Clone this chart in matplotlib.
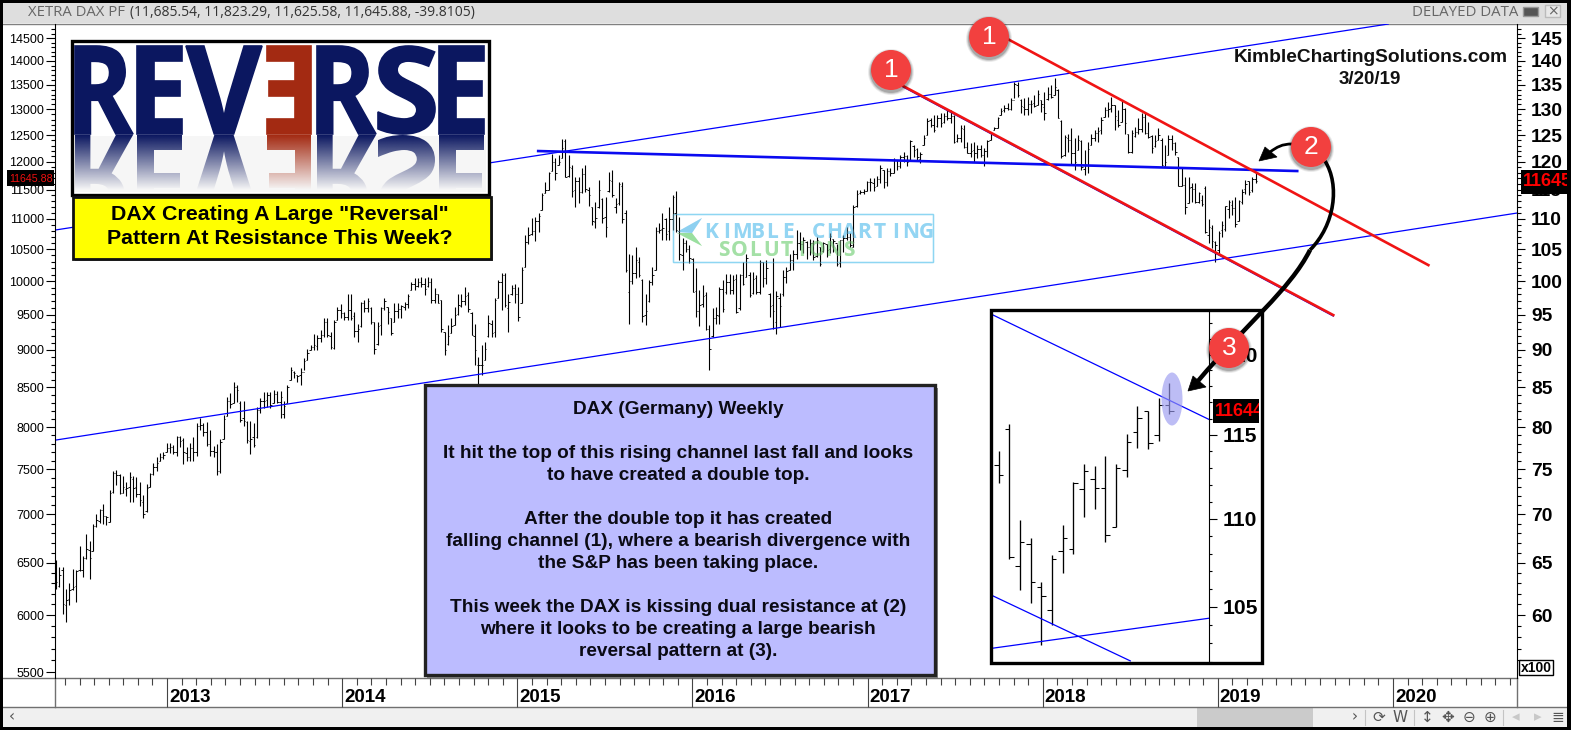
import numpy as np
import matplotlib
matplotlib.use('Agg')
import matplotlib.pyplot as plt
from matplotlib.patches import Rectangle, Circle, Ellipse, Polygon, PathPatch
from matplotlib.path import Path
from matplotlib.textpath import TextPath
from matplotlib.font_manager import FontProperties
from matplotlib.transforms import Affine2D, ScaledTranslation
from matplotlib.ticker import NullFormatter

plt.rcParams['font.family'] = ['Liberation Sans', 'DejaVu Sans']

# ============================== DATA ==============================
# Weekly DAX bars
highs = [
    6530,6455,6455,6245,6300,6440,6430,6665,6565,6795,
    6720,6900,7005,7055,7115,6985,7265,7475,7490,7450,
    7420,7360,7470,7420,7410,7355,7210,7330,7455,7570,
    7640,7685,7705,7805,7805,7785,7895,7895,7865,7755,
    7805,7880,8045,8110,8045,8060,7965,7775,7795,7850,
    8150,8370,8425,8570,8530,8320,8320,8070,8070,8050,
    8255,8360,8435,8435,8445,8465,8455,8455,8320,8530,
    8765,8715,8665,
    8750,8885,9020,9065,9220,9210,9280,9450,9450,9255,
    9420,9615,9655,9540,9810,9810,9540,9370,9690,9715,
    9740,9615,9395,9395,9615,9740,9615,9450,9665,9665,
    9640,9690,9810,9990,10040,10040,10065,10040,10065,10040,
    9890,9810,9715,9255,9350,9450,9615,9810,9810,9915,
    9835,9540,9370,8905,9070,9115,9490,9420,9740,10015,
    10120,10120,9810,9940,9955,9915,
    10220,10730,10865,11005,11035,11103,11435,11640,11820,12150,
    12062,12125,12420,12420,12125,11940,11730,11730,11880,11950,
    11550,11205,11290,11670,11348,11376,11820,11850,11348,11640,
    11640,11148,10420,10405,10539,10380,10025,9810,10015,10210,
    10865,10920,11090,11020,11205,11405,11476,11035,10675,10645,
    10565,10355,10195,9861,9940,9835,9350,9590,9615,9915,
    10015,10115,10115,10090,10115,10115,10300,10420,10143,10143,
    10090,10325,10300,10325,
    9826,10365,9855,9826,10164,10215,10415,10494,10808,10782,
    10700,10625,10672,10645,10700,10537,10617,10590,10755,10672,
    10590,10645,10727,10866,10755,11235,11488,11488,11512,11646,
    11705,11705,11735,11938,11855,11885,11885,12066,12035,12127,
    12190,12127,12405,12312,12265,12190,12498,12823,12823,12888,
    12888,12922,12922,13000,12985,12888,12530,12692,12692,12375,
    12343,12375,12312,12312,12250,12405,12563,12660,12855,13020,
    13088,13121,
    13224,13563,13563,13204,13224,13256,13190,13290,13390,13190,
    13357,13460,13494,13632,13405,12790,12498,12530,12628,12437,
    12498,12405,12217,12375,12530,12595,12660,12855,13056,13157,
    13256,13088,12985,13190,13020,12530,12595,12660,12823,12922,
    12922,12758,12498,12498,12628,12437,12312,12498,12498,12375,
    12097,11885,11720,11720,11618,11618,11465,
    11403,11567,10995,10888,10638,10793,10965,11215,11325,11313,
    11373,11325,11506,11677,11649,11725,11823.29]
lows = [
    6250,6260,6010,5935,6095,6240,6120,6420,6365,6535,
    6345,6615,6870,6905,6900,6890,6915,7230,7325,7220,
    7230,7200,7135,7135,7190,7085,6965,7030,7295,7440,
    7485,7590,7615,7705,7685,7680,7655,7765,7560,7590,
    7590,7590,7655,7965,7895,7770,7655,7640,7435,7455,
    7850,8130,8235,8300,8310,8060,8010,7805,7680,7760,
    7865,8175,8235,8255,8235,8295,8295,8115,8115,8295,
    8590,8620,8570,
    8530,8727,8860,9000,9000,9000,9115,9185,9185,9020,
    9020,9420,9450,9420,9420,9420,9185,9105,9325,9540,
    9540,9370,8950,9070,9205,9565,9370,9205,9395,9450,
    9450,9565,9590,9860,9860,9915,9905,9790,9915,9665,
    9665,9665,9255,8930,9070,9230,9350,9490,9615,9640,
    9540,9205,8795,8380,8660,8860,9185,9185,9185,9740,
    9565,9615,9255,9790,9665,9410,
    9665,10220,10590,10730,10635,10785,11148,11435,11490,11838,
    11670,11940,12062,11718,11730,11376,11205,11260,11435,11465,
    11215,10895,10840,11175,10920,10690,11465,11376,11103,11230,
    10920,10143,9370,9962,10040,10064,9395,9350,9690,9940,
    10168,10760,10645,10645,10645,10811,10785,10325,10168,10460,
    10273,9835,9470,9340,9615,9278,8730,9185,9370,9370,
    9540,9810,9810,9810,9517,9565,9940,10064,9763,9810,
    9810,9810,9915,9962,
    9466,9292,9228,9316,9779,9969,10164,10164,10339,10494,
    10440,10339,10406,10328,10380,10228,10458,10380,10432,10458,
    10228,10218,10458,10645,10537,10537,11195,11430,11430,11470,
    11470,11470,11559,11618,11530,11559,11735,11795,11855,11885,
    12005,11915,12035,12097,12035,11987,12312,12498,12660,12563,
    12660,12660,12725,12790,12725,12355,12375,12375,12250,12158,
    12097,12005,12066,12097,11915,12097,12405,12595,12628,12888,
    12955,12985,
    12985,13224,13256,12922,12888,12888,12922,13056,13088,12955,
    12790,13190,13224,13290,12823,12066,12110,12190,11938,11857,
    12217,11857,11765,11795,12312,12393,12375,12530,12855,12855,
    12955,12595,12660,12758,12530,12158,12170,12469,12530,12563,
    12530,12437,12170,12280,12405,11915,11915,12127,12217,12127,
    11559,11559,11085,11260,11290,11260,11260,
    11213,10768,10592,10520,10290,10400,10689,10796,11014,11056,
    10869,10955,11249,11419,11413,11466,11625.58]
opens = [
    6465,6275,6425,6095,6155,6245,6275,6425,6430,6550,
    6630,6620,6880,6930,7050,6980,6920,7240,7455,7435,
    7235,7275,7295,7385,7295,7220,7130,7035,7295,7450,
    7525,7590,7645,7705,7745,7755,7695,7885,7845,7685,
    7645,7745,7695,8010,8020,7940,7795,7715,7695,7485,
    7850,8130,8330,8300,8500,8300,8110,8060,7835,7875,
    7875,8210,8320,8340,8400,8300,8410,8310,8160,8300,
    8595,8700,8660,
    8660,8700,8860,9005,9040,9060,9170,9210,9400,9190,
    9030,9420,9570,9530,9470,9570,9480,9270,9330,9670,
    9600,9600,9390,9080,9350,9590,9610,9450,9400,9560,
    9580,9610,9660,9865,9950,9930,9990,9960,9920,9990,
    9720,9800,9710,9250,9080,9235,9355,9510,9630,9700,
    9790,9530,9190,8800,8790,8870,9190,9370,9250,9745,
    9980,10100,9600,9800,9900,9800,
    9670,10220,10610,10740,10800,10960,11150,11440,11500,11840,
    11990,11950,12065,12390,11735,11880,11500,11650,11450,11780,
    11500,11200,10950,11200,11340,11030,11480,11650,11200,11260,
    11560,11090,9830,10000,10120,10300,10010,9500,9700,9980,
    10170,10800,10830,11000,10800,11000,11100,10790,10400,10600,
    10500,10350,9850,9550,9650,9790,9300,9200,9450,9480,
    9880,9830,9990,9870,10030,9600,10100,10070,10100,9820,
    10040,9840,10290,10050,
    9800,9640,9400,9750,9800,10060,10170,10330,10430,10600,
    10590,10620,10530,10600,10390,10530,10470,10590,10500,10670,
    10600,10280,10640,10680,10700,10540,11210,11440,11460,11480,
    11630,11620,11570,11680,11850,11640,11830,11800,12030,11920,
    12090,12100,12040,12300,12240,12060,12320,12500,12790,12700,
    12670,12830,12750,12880,12840,12870,12380,12450,12620,12280,
    12170,12220,12170,12240,12130,12200,12410,12600,12640,12890,
    12980,13030,
    13000,13190,13500,13190,13050,13000,13100,13120,13090,13190,
    13050,13200,13320,13290,13400,12780,12120,12450,12400,12170,
    12220,12390,11870,11950,12320,12450,12540,12590,12860,12990,
    13020,13080,12800,12760,13000,12530,12180,12480,12550,12620,
    12850,12540,12480,12290,12410,12400,11930,12130,12430,12350,
    12090,11570,11580,11270,11540,11510,11280,
    11319,11534,10730,10853,10610,10483,10815,10825,11173,11233,
    11180,10955,11289,11516,11649,11500,11685.54]
closes = [
    6315,6385,6105,6145,6235,6265,6415,6430,6550,6640,
    6550,6880,6940,7050,6980,6970,7230,7455,7435,7230,
    7295,7285,7415,7285,7220,7160,7000,7290,7445,7525,
    7575,7645,7665,7745,7755,7695,7885,7835,7695,7645,
    7745,7695,8010,8020,7940,7795,7715,7695,7485,7815,
    8100,8330,8290,8500,8460,8090,8080,7845,7855,7785,
    8210,8320,8330,8400,8280,8410,8310,8380,8260,8500,
    8735,8685,8655,
    8700,8850,8960,9040,9070,9170,9210,9400,9210,9040,
    9400,9570,9530,9460,9570,9450,9270,9300,9670,9590,
    9700,9400,9020,9340,9590,9700,9540,9230,9560,9580,
    9620,9660,9780,9950,9930,9990,9960,9880,9990,9720,
    9800,9670,9300,9000,9190,9340,9500,9640,9700,9780,
    9580,9210,9000,8790,8800,9020,9380,9230,9720,9980,
    10090,9640,9680,9900,9800,9470,
    10170,10620,10730,10790,10960,11050,11400,11500,11800,12000,
    11800,12000,12250,11730,11900,11480,11650,11450,11780,11520,
    11400,10960,11010,11500,11020,10860,11670,11400,11250,11600,
    11000,10170,10000,10120,10320,10100,9480,9560,9980,10090,
    10800,10820,10850,10750,11000,11380,10820,10420,10600,10500,
    10360,9840,9560,9640,9780,9300,9020,9450,9500,9880,
    9580,9990,9860,10020,9540,10100,9960,10360,9790,10030,
    9830,10300,10040,10200,
    9630,9560,9780,9630,10060,10150,10330,10430,10600,10590,
    10650,10530,10600,10380,10650,10260,10600,10490,10710,10630,
    10270,10640,10680,10700,10560,11200,11420,11460,11480,11630,
    11630,11550,11680,11880,11640,11830,11790,12040,11930,12080,
    12100,12000,12390,12220,12080,12150,12440,12770,12700,12600,
    12830,12740,12880,12830,12880,12370,12450,12640,12270,12170,
    12200,12160,12240,12120,12200,12380,12540,12640,12830,12970,
    13030,13000,
    13190,13510,13300,13060,13000,13100,13110,13070,13320,13100,
    12920,13320,13250,13450,12830,12100,12460,12400,12170,12000,
    12400,11900,11960,12240,12450,12540,12580,12800,12980,13010,
    13090,12880,12700,13000,12730,12180,12540,12550,12610,12860,
    12540,12460,12260,12390,12500,11940,12000,12430,12350,12180,
    11570,11580,11200,11530,11520,11290,11440,
    11259,10783,10865,10638,10561,10768,10889,11209,11283,11180,
    10907,11299,11456,11602,11453,11682,11645.88]

first_week = 2012.366    # first bar on the date axis
weeks_per_year = 52.27

years = [2013, 2014, 2015, 2016, 2017, 2018, 2019, 2020]
left_ticks = list(range(5500, 15000, 500))
right_ticks = list(range(60, 150, 5))

# trend lines as ([year, year], [price, price])
upper_channel = ([2012.36, 2019.973], [10811, 14814])
lower_channel = ([2012.36, 2020.708], [7841, 11096])
flat_resist = ([2015.119, 2019.453], [12199, 11832])
red_upper = ([2017.757, 2020.202], [14567, 10247])
red_lower = ([2017.203, 2019.659], [13474, 9493])
inset_lines = [([2018.899, 2019.286], [12254, 11595]),
               ([2018.899, 2019.145], [10561, 10204]),
               ([2018.899, 2019.286], [10273, 10437])]

title_a = 'XETRA DAX PF'
title_b = '(11,685.54, 11,823.29, 11,625.58, 11,645.88, -39.8105)'
box_lines = [('DAX (Germany) Weekly', 409),
             ('It hit the top of this rising channel last fall and looks', 453),
             ('to have created a double top.', 475),
             ('After the double top it has created', 519),
             ('falling channel (1), where a bearish divergence with', 541),
             ('the S&P has been taking place.', 563),
             ('This week the DAX is kissing dual resistance at (2)', 607),
             ('where it looks to be creating a large bearish', 629),
             ('reversal pattern at (3).', 651)]

# ============================== FIGURE ==============================
W, H = 1571, 730
fig = plt.figure(figsize=(W/100, H/100), dpi=100, facecolor='white')
NAVY = '#0b1760'
RUST = '#a32a12'


def pixel_axes(z):
    a = fig.add_axes([0, 0, 1, 1], zorder=z)
    a.set_xlim(0, W)
    a.set_ylim(H, 0)
    a.axis('off')
    return a


def box(a, x0, y0, x1, y1, **kw):
    return a.add_patch(Rectangle((x0, y0), x1-x0, y1-y0, **kw))


def draw_bars(a, lw):
    x = first_week + np.arange(len(highs))/weeks_per_year
    dt = 0.42/weeks_per_year
    a.vlines(x, lows, highs, color='black', lw=lw)
    a.hlines(opens, x-dt, x, color='black', lw=lw*0.8)
    a.hlines(closes, x, x+dt, color='black', lw=lw*0.8)


def watermark(a, alpha):
    box(a, 673, 214, 933, 262, fc='none', ec='#8ed6f2', lw=1, alpha=alpha)
    a.add_patch(Polygon([(677, 232), (702, 218), (692, 233)], fc='#8ed0f0', ec='none', alpha=alpha))
    a.add_patch(Polygon([(677, 233), (702, 246), (692, 233)], fc='#9adf9f', ec='none', alpha=alpha))
    for i, ch in enumerate('KIMBLE CHARTING'):
        a.text(711 + i*15.35, 232, ch, family='Open Sans', weight='bold', fontsize=15,
               color='#93d5f3', ha='center', va='center', alpha=alpha)
    for i, ch in enumerate('SOLUTIONS'):
        a.text(724 + i*15.6, 251, ch, family='Open Sans', weight='bold', fontsize=15,
               color='#a4e0a6', ha='center', va='center', alpha=alpha)


# ------------------------ window chrome + watermark (under the bars) -------
bg = pixel_axes(0)
box(bg, 0, 0, W, 23, fc='#dedede', ec='none')
bg.plot([0, W], [23.5, 23.5], color='#808080', lw=1)
box(bg, 0, 707, W, 727, fc='#f0f0f0', ec='none')
box(bg, 1197, 707, 1313, 727, fc='#cbcbcb', ec='none')
bg.plot([0, 1517], [678, 678], color='#707070', lw=1)
bg.plot([0, W], [707, 707], color='#707070', lw=1)
bg.plot([55, 55], [678, 707], color='#707070', lw=1)
bg.plot([1517, 1517], [678, 707], color='#707070', lw=1)
bg.text(28, 12.5, title_a, family='Open Sans', fontsize=10.7, color='#666666', va='center')
bg.text(130, 12.5, title_b, family='Open Sans', fontsize=10, color='#333333', va='center')
bg.text(1412, 12.5, 'DELAYED DATA', family='Open Sans', fontsize=10.8, color='#666666', va='center')
box(bg, 1523, 7, 1538, 16, fc='#555555', ec='#999999', lw=1)
box(bg, 1545, 5, 1560, 17, fc='#e8e8e8', ec='#bbbbbb', lw=1)
bg.text(1552.5, 11, '×', family='DejaVu Sans', fontsize=10, color='#666666', ha='center', va='center')

# scroll bar and toolbar glyphs
for gx, glyph in [(12, '‹'), (1355, '›'), (1379, '⟳'), (1400, 'W'), (1427, '↕'), (1448, '✥'),
                  (1469, '⊖'), (1490, '⊕'), (1516, '◂'), (1538, '▸'), (1558, '≣')]:
    col = '#c8c8c8' if gx in (1516, 1538) else '#555555'
    bg.text(gx, 717, glyph, family='DejaVu Sans', fontsize=11, color=col, ha='center', va='center')
for sx in (1365, 1414, 1503):
    bg.plot([sx, sx], [710, 725], color='#c4c4c4', lw=0.8)

watermark(bg, 1.0)

# ------------------------ main price chart ---------------------------------
ax = fig.add_axes([55/W, (H-678)/H, (1517-55)/W, (678-24)/H], zorder=1)
ax.set_facecolor('none')
ax.set_yscale('log')
ax.set_xlim(2012.360, 2020.708)
ax.set_ylim(5451, 14814)
for s in ('top', 'bottom', 'right'):
    ax.spines[s].set_visible(False)

draw_bars(ax, 0.8)

ax.plot(*upper_channel, color='#0000ff', lw=0.9)
ax.plot(*lower_channel, color='#0000ff', lw=0.9)
ax.plot(*flat_resist, color='#0a0af0', lw=1.9)
ax.plot(red_lower[0], np.array(red_lower[1])*0.9985, color='#0000ff', lw=0.9)
ax.plot(*red_upper, color='#f01414', lw=1.9)
ax.plot(*red_lower, color='#f01414', lw=1.9)

ax.set_yticks(left_ticks, [str(v) for v in left_ticks])
ax.set_yticks([v for v in range(5500, 14800, 100) if v % 500], minor=True)
ax.yaxis.set_minor_formatter(NullFormatter())
ax.tick_params(axis='y', which='major', length=6.5, width=0.8, pad=1.5, labelsize=9)
ax.tick_params(axis='y', which='minor', length=2.9, width=0.8)

ax.set_xticks(years, [str(y) for y in years])
ax.set_xticks([y + m/12 for y in range(2012, 2021) for m in range(12)
               if 2012.36 < y + m/12 < 2020.7 and m > 0], minor=True)
ax.tick_params(axis='x', which='major', length=20.9, width=0.8, pad=-13, labelsize=13.5, color='#444444')
ax.tick_params(axis='x', which='minor', length=5, width=0.8, color='#444444')
for lab in ax.get_xticklabels():
    lab.set_ha('left')
    lab.set_fontweight('bold')
    lab.set_transform(lab.get_transform() + ScaledTranslation(2/100, 0, fig.dpi_scale_trans))

ax2 = ax.twinx()
ax2.set_zorder(1.1)
ax2.set_yscale('log')
ax2.set_ylim(54.51, 148.14)
for s in ('top', 'bottom', 'left'):
    ax2.spines[s].set_visible(False)
ax2.set_yticks(right_ticks, [str(v) for v in right_ticks])
ax2.set_yticks([v for v in range(55, 148) if v % 5], minor=True)
ax2.yaxis.set_minor_formatter(NullFormatter())
ax2.tick_params(axis='y', which='major', length=6, width=0.8, pad=4, labelsize=13.8)
ax2.tick_params(axis='y', which='minor', length=2.9, width=0.8)
for lab in ax2.get_yticklabels():
    lab.set_fontweight('bold')

# faint copy of the watermark over the bars
wm_top = pixel_axes(1.2)
watermark(wm_top, 0.4)

# ------------------------ inset of the last weeks ---------------------------
under = pixel_axes(1.5)
box(under, 990, 310, 1262, 663, fc='white', ec='none')

axi = fig.add_axes([993/W, (H-662)/H, (1209-993)/W, (662-311)/H], zorder=1.6)
axi.set_yscale('log')
axi.set_xlim(2018.899, 2019.286)
axi.set_ylim(10198, 12280)
for s in ('top', 'bottom', 'left'):
    axi.spines[s].set_visible(False)
draw_bars(axi, 0.95)
for lx, ly in inset_lines:
    axi.plot(lx, ly, color='#0000ff', lw=0.9)
axi.set_xticks([])
axi.yaxis.tick_right()
axi.set_yticks([10500, 11000, 11500, 12000], ['105', '110', '115', '120'])
axi.set_yticks([v for v in range(10200, 12300, 100) if v % 500], minor=True)
axi.yaxis.set_minor_formatter(NullFormatter())
axi.tick_params(axis='y', which='major', length=6, width=0.8, pad=3.5, labelsize=15.2)
axi.tick_params(axis='y', which='minor', length=2.5, width=0.8)
for lab in axi.get_yticklabels():
    lab.set_fontweight('bold')

# ------------------------ annotations on top --------------------------------
ov = pixel_axes(3)


def fit_letter(ch, x0, x1, y0, y1, flip_x=False, mirror=False):
    fp = FontProperties(family='Open Sans', weight='bold')
    tp = TextPath((0, 0), ch, size=100, prop=fp)
    bb = tp.get_extents()
    sx = (x1-x0)/bb.width
    sy = (y1-y0)/bb.height
    if flip_x:
        tr = Affine2D().translate(-bb.x1, -bb.y0).scale(-sx, 1)
    else:
        tr = Affine2D().translate(-bb.x0, -bb.y0).scale(sx, 1)
    if mirror:
        tr = tr.scale(1, sy).translate(x0, y1 + 1)
    else:
        tr = tr.scale(1, -sy).translate(x0, y1)
    return tp.transformed(tr)


# logo
box(ov, 72, 41, 489, 195, fc='white', ec='black', lw=2.4, zorder=2)
box(ov, 75, 136, 486, 192, fc='#f6f6f6', ec='none', zorder=2.1)
logo = [('R', 75, 133, NAVY, False), ('E', 137, 182, NAVY, False), ('V', 186, 262, NAVY, False),
        ('E', 267, 311, RUST, True), ('R', 317, 376, NAVY, False), ('S', 378, 435, NAVY, False),
        ('E', 439, 484, NAVY, False)]
for ch, lx0, lx1, col, flip in logo:
    p = fit_letter(ch, lx0, lx1, 46, 134, flip_x=flip)
    ov.add_patch(PathPatch(p, fc=col, ec=col, lw=1.2, zorder=3))
    m = fit_letter(ch, lx0, lx1, 46, 134, flip_x=flip, mirror=True)
    rgb = matplotlib.colors.to_rgb(col)
    grad = np.ones((128, 2, 4))
    grad[..., 0], grad[..., 1], grad[..., 2] = rgb
    grad[..., 3] = np.linspace(1, 0, 128)[:, None]
    im = ov.imshow(grad, extent=(lx0-2, lx1+2, 190, 135), aspect='auto', zorder=3, interpolation='bilinear')
    im.set_clip_path(PathPatch(m, transform=ov.transData))
ov.set_xlim(0, W)
ov.set_ylim(H, 0)

# yellow headline
box(ov, 75, 200, 493, 261, fc='#777777', ec='none', zorder=4)
box(ov, 73, 197, 491, 259, fc='#ffff00', ec='#111111', lw=2, zorder=4.1)
ov.text(280, 215, 'DAX Creating A Large "Reversal"', weight='bold', fontsize=15.4, ha='center', va='center', zorder=5)
ov.text(280, 239, 'Pattern At Resistance This Week?', weight='bold', fontsize=15.4, ha='center', va='center', zorder=5)

# text box
box(ov, 427, 388, 938, 678, fc='#888888', ec='none', zorder=4)
box(ov, 425, 385, 935, 675, fc='#bcbcff', ec='#222222', lw=2.4, zorder=4.1)
for txt, ty in box_lines:
    ov.text(678, ty, txt, weight='bold', fontsize=13.7, color='#0a0a14', ha='center', va='center', zorder=5)

# site and date
ov.text(1370.5, 57, 'KimbleChartingSolutions.com', weight='bold', fontsize=13.8, color='#111111', ha='center', va='center')
ov.text(1370, 79, '3/20/19', weight='bold', fontsize=13.5, color='#111111', ha='center', va='center')

# inset frame and highlight
box(ov, 991.5, 309.5, 1262, 663, fc='none', ec='black', lw=2.4)
ov.add_patch(Ellipse((1172, 399), 21, 53, fc='#9a9af0', ec='none', alpha=0.65))

# arrows
long_a = Path([(1325, 161), (1340, 185), (1335, 225), (1310, 250)],
              [Path.MOVETO, Path.CURVE4, Path.CURVE4, Path.CURVE4])
long_b = Path([(1310, 250), (1290, 290), (1245, 325), (1198, 381)],
              [Path.MOVETO, Path.CURVE4, Path.CURVE4, Path.CURVE4])
ov.add_patch(PathPatch(long_a, fc='none', ec='black', lw=2.6, zorder=6))
ov.add_patch(PathPatch(long_b, fc='none', ec='black', lw=3.2, zorder=6))
ov.add_patch(Polygon([(1188, 391), (1193, 376), (1206, 387)], fc='black', ec='black', lw=0.5, zorder=6))
short = Path([(1292, 144), (1282, 144), (1277, 147), (1270, 152)],
             [Path.MOVETO, Path.CURVE4, Path.CURVE4, Path.CURVE4])
ov.add_patch(PathPatch(short, fc='none', ec='black', lw=2, zorder=6))
ov.add_patch(Polygon([(1259, 161), (1265, 147), (1277, 157)], fc='black', ec='black', lw=0.5, zorder=6))

# numbered markers
for mx, my, num in [(891, 70, '1'), (989, 37, '1'), (1311, 147, '2'), (1229, 348, '3')]:
    for r, a in [(23, 0.08), (22, 0.12), (21, 0.18)]:
        ov.add_patch(Circle((mx, my+2), r, fc='black', ec='none', alpha=a, zorder=7))
    ov.add_patch(Circle((mx, my), 20, fc='#f2403f', ec='none', zorder=7.5))
    ov.text(mx, my, num, color='white', fontsize=19, ha='center', va='center', zorder=8)

# price tags
tag = box(ov, 7, 170, 54, 186, fc='black', ec='none', zorder=5)
t = ov.text(9, 178.5, '11645.88', color='#f01010', fontsize=7.7, va='center', zorder=6)
t.set_clip_path(tag)
t.set_clip_on(True)
tag = box(ov, 1521, 170, 1567, 194, fc='black', ec='none', zorder=5)
t = ov.text(1523, 182, '11645', color='#ff0000', weight='bold', fontsize=13, va='center', zorder=6)
t.set_clip_path(tag)
t.set_clip_on(True)
tag = box(ov, 1213, 399, 1259, 423, fc='black', ec='none', zorder=5)
t = ov.text(1215, 411, '11644', color='#ff0000', weight='bold', fontsize=13, va='center', zorder=6)
t.set_clip_path(tag)
t.set_clip_on(True)

# volume scale box
box(ov, 1519, 660, 1553, 675, fc='white', ec='black', lw=1)
ov.text(1536, 667.5, 'x100', weight='bold', fontsize=10, ha='center', va='center')

# black window frame
box(ov, 0, 0, W, 3, fc='black', ec='none', zorder=9)
box(ov, 0, 727, W, 730, fc='black', ec='none', zorder=9)
box(ov, 0, 0, 3, H, fc='black', ec='none', zorder=9)
box(ov, 1567, 0, W, H, fc='black', ec='none', zorder=9)

fig.savefig('out.png', dpi=100)
